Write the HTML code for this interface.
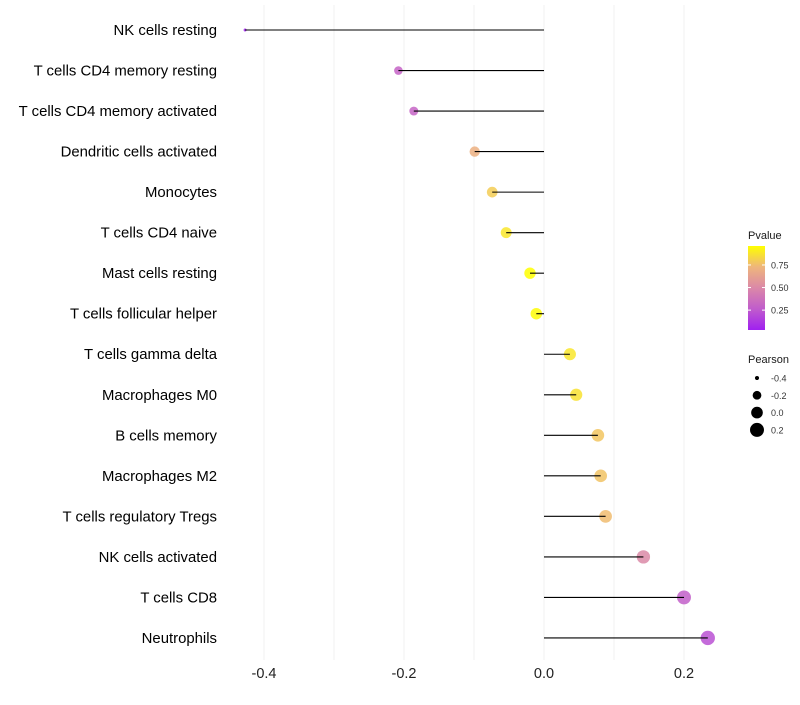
<!DOCTYPE html>
<html><head><meta charset="utf-8"><style>
body{margin:0;background:#fff}
svg{font-family:"Liberation Sans",Arial,sans-serif}
</style></head><body>
<svg id="c" width="800" height="700"></svg>
<script>
const categories=["NK cells resting","T cells CD4 memory resting","T cells CD4 memory activated","Dendritic cells activated","Monocytes","T cells CD4 naive","Mast cells resting","T cells follicular helper","T cells gamma delta","Macrophages M0","B cells memory","Macrophages M2","T cells regulatory  Tregs ","NK cells activated","T cells CD8","Neutrophils"];
const pearson=[-0.427,-0.208,-0.186,-0.099,-0.074,-0.054,-0.02,-0.011,0.037,0.046,0.077,0.081,0.088,0.142,0.2,0.234];
const pvalue=[0.03,0.3,0.31,0.7,0.8,0.88,0.96,0.95,0.88,0.87,0.78,0.77,0.75,0.5,0.28,0.22];
const xTicks=[-0.4,-0.2,0.0,0.2];
const xGrid=[-0.4,-0.3,-0.2,-0.1,0,0.1,0.2];
const pTicks=[0.25,0.5,0.75];
const sizeTicks=[-0.4,-0.2,0.0,0.2];

const NS="http://www.w3.org/2000/svg";
const svg=document.getElementById('c');
function mk(t,a,p){const e=document.createElementNS(NS,t);for(const k in a)e.setAttribute(k,a[k]);(p||svg).appendChild(e);return e;}
const x=v=>544+v*700;
const y=i=>30+i*40.53;
const pMin=Math.min(...pvalue),pMax=Math.max(...pvalue);
const stops=[[160,32,240],[192,92,204],[219,136,168],[238,181,124],[255,255,0]];
function col(p){let t=(p-pMin)/(pMax-pMin);t=Math.max(0,Math.min(1,t))*4;const i=Math.min(3,Math.floor(t)),f=t-i;const a=stops[i],b=stops[i+1];return `rgb(${a.map((c,k)=>Math.round(c+(b[k]-c)*f)).join(',')})`;}
const sMin=Math.min(...pearson),sMax=Math.max(...pearson);
function rad(v){return Math.sqrt(2.25+(v-sMin)/(sMax-sMin)*49);}

xGrid.forEach(g=>{const l=mk('line',{x1:x(g),x2:x(g),y1:5,y2:660,stroke:'#f0f0f0','stroke-width':1});
});
xTicks.forEach(t=>{const e=mk('text',{x:x(t),y:678,'text-anchor':'middle','font-size':14.5,fill:'#222'});e.textContent=t.toFixed(1);
});
categories.forEach((c,i)=>{
 const e=mk('text',{x:217,y:y(i)+5,'text-anchor':'end','font-size':14.9,fill:'#000'});e.textContent=c;
 
 const d=mk('circle',{cx:x(pearson[i]),cy:y(i),r:rad(pearson[i]),fill:col(pvalue[i]),'fill-opacity':0.85});
 
 const l=mk('line',{x1:x(0),x2:x(pearson[i]),y1:y(i),y2:y(i),stroke:'#000','stroke-width':1.1});
 
});
let t=mk('text',{x:748,y:239,'font-size':11,fill:'#1a1a1a'});t.textContent='Pvalue';

const defs=mk('defs',{});const lg=mk('linearGradient',{id:'g',x1:0,y1:1,x2:0,y2:0},defs);
stops.forEach((s,k)=>mk('stop',{offset:k/4,'stop-color':`rgb(${s.join(',')})`},lg));
const cb=mk('rect',{x:748,y:246,width:17,height:84,fill:'url(#g)'});

const py=p=>330-(p-pMin)/(pMax-pMin)*84;
pTicks.forEach(p=>{mk('line',{x1:748,x2:751,y1:py(p),y2:py(p),stroke:'#fff'});mk('line',{x1:762,x2:765,y1:py(p),y2:py(p),stroke:'#fff'});
 const e=mk('text',{x:771,y:py(p)+3.5,'font-size':9,fill:'#333'});e.textContent=p.toFixed(2);
 });
t=mk('text',{x:748,y:363,'font-size':11,fill:'#1a1a1a'});t.textContent='Pearson';

sizeTicks.forEach((s,k)=>{const cy=378+k*17.3;
 const c=mk('circle',{cx:757,cy:cy,r:rad(s),fill:'#000'});
 const e=mk('text',{x:771,y:cy+3.5,'font-size':9,fill:'#333'});e.textContent=s.toFixed(1);
 });
</script>
</body></html>
